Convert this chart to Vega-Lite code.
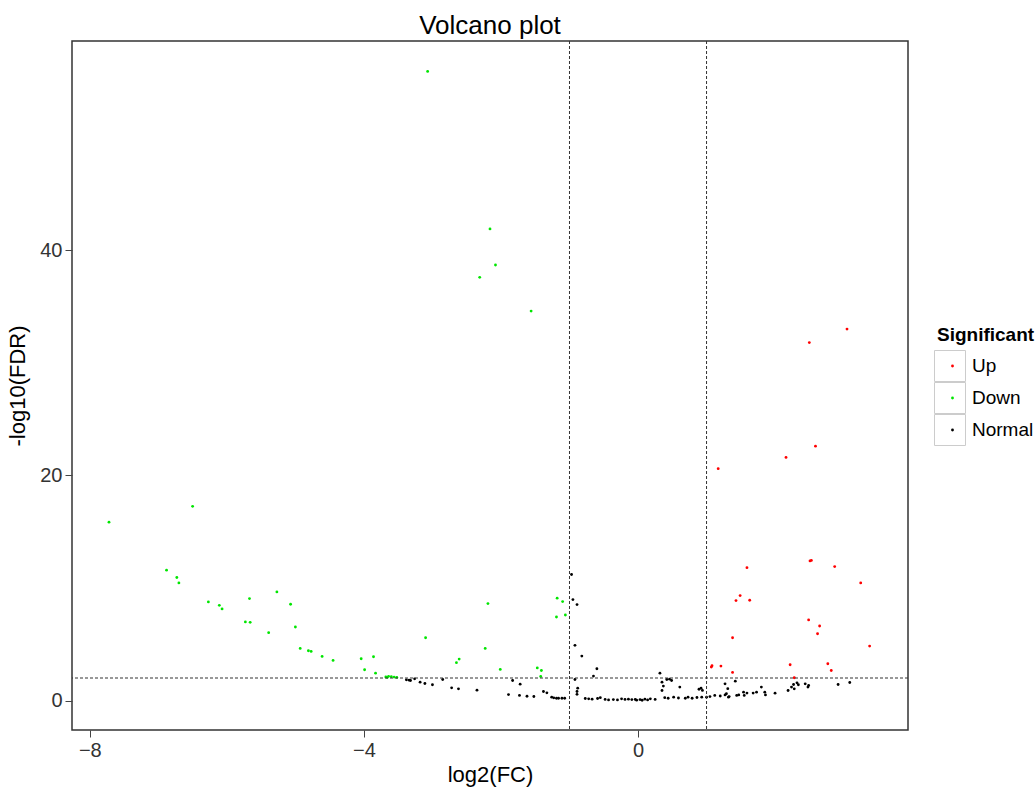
{
  "$schema": "https://vega.github.io/schema/vega-lite/v6.json",
  "width": 836,
  "height": 689,
  "autosize": {"type": "none"},
  "padding": {"left": 72, "top": 41, "right": 127, "bottom": 57},
  "background": "white",
  "title": {"text": "Volcano plot", "fontSize": 26, "font": "Liberation Sans", "fontWeight": "normal", "color": "#000000", "anchor": "middle", "offset": 2},
  "config": {
    "view": {"stroke": "#333333", "strokeWidth": 1.5},
    "axis": {"grid": false, "domain": false, "tickColor": "#444444", "tickSize": 7, "labelFont": "Liberation Sans", "labelFontSize": 20, "labelColor": "#333333", "labelPadding": 3, "titleFont": "Liberation Sans", "titleFontSize": 22, "titleFontWeight": "normal", "titleColor": "#000000"}
  },
  "datasets": {
    "genes": [
      {"log2FC": -3.07, "negLog10FDR": 55.9, "Significant": "Down"},
      {"log2FC": -2.16, "negLog10FDR": 41.9, "Significant": "Down"},
      {"log2FC": -2.08, "negLog10FDR": 38.7, "Significant": "Down"},
      {"log2FC": -2.31, "negLog10FDR": 37.6, "Significant": "Down"},
      {"log2FC": -1.56, "negLog10FDR": 34.6, "Significant": "Down"},
      {"log2FC": -7.72, "negLog10FDR": 15.85, "Significant": "Down"},
      {"log2FC": -6.5, "negLog10FDR": 17.25, "Significant": "Down"},
      {"log2FC": -6.88, "negLog10FDR": 11.58, "Significant": "Down"},
      {"log2FC": -6.73, "negLog10FDR": 10.93, "Significant": "Down"},
      {"log2FC": -6.7, "negLog10FDR": 10.45, "Significant": "Down"},
      {"log2FC": -6.27, "negLog10FDR": 8.76, "Significant": "Down"},
      {"log2FC": -6.11, "negLog10FDR": 8.46, "Significant": "Down"},
      {"log2FC": -6.07, "negLog10FDR": 8.14, "Significant": "Down"},
      {"log2FC": -5.67, "negLog10FDR": 9.06, "Significant": "Down"},
      {"log2FC": -5.73, "negLog10FDR": 6.98, "Significant": "Down"},
      {"log2FC": -5.66, "negLog10FDR": 6.95, "Significant": "Down"},
      {"log2FC": -5.39, "negLog10FDR": 6.03, "Significant": "Down"},
      {"log2FC": -5.27, "negLog10FDR": 9.65, "Significant": "Down"},
      {"log2FC": -5.07, "negLog10FDR": 8.55, "Significant": "Down"},
      {"log2FC": -5.0, "negLog10FDR": 6.53, "Significant": "Down"},
      {"log2FC": -4.93, "negLog10FDR": 4.63, "Significant": "Down"},
      {"log2FC": -4.81, "negLog10FDR": 4.42, "Significant": "Down"},
      {"log2FC": -4.77, "negLog10FDR": 4.36, "Significant": "Down"},
      {"log2FC": -4.61, "negLog10FDR": 3.92, "Significant": "Down"},
      {"log2FC": -4.45, "negLog10FDR": 3.56, "Significant": "Down"},
      {"log2FC": -4.04, "negLog10FDR": 3.71, "Significant": "Down"},
      {"log2FC": -3.86, "negLog10FDR": 3.89, "Significant": "Down"},
      {"log2FC": -3.99, "negLog10FDR": 2.73, "Significant": "Down"},
      {"log2FC": -3.83, "negLog10FDR": 2.43, "Significant": "Down"},
      {"log2FC": -3.68, "negLog10FDR": 2.1, "Significant": "Down"},
      {"log2FC": -3.66, "negLog10FDR": 2.05, "Significant": "Down"},
      {"log2FC": -3.64, "negLog10FDR": 2.15, "Significant": "Down"},
      {"log2FC": -3.6, "negLog10FDR": 2.12, "Significant": "Down"},
      {"log2FC": -3.56, "negLog10FDR": 2.08, "Significant": "Down"},
      {"log2FC": -3.52, "negLog10FDR": 2.05, "Significant": "Down"},
      {"log2FC": -3.1, "negLog10FDR": 5.58, "Significant": "Down"},
      {"log2FC": -2.65, "negLog10FDR": 3.36, "Significant": "Down"},
      {"log2FC": -2.61, "negLog10FDR": 3.68, "Significant": "Down"},
      {"log2FC": -2.19, "negLog10FDR": 8.61, "Significant": "Down"},
      {"log2FC": -2.23, "negLog10FDR": 4.63, "Significant": "Down"},
      {"log2FC": -2.01, "negLog10FDR": 2.76, "Significant": "Down"},
      {"log2FC": -1.47, "negLog10FDR": 2.9, "Significant": "Down"},
      {"log2FC": -1.41, "negLog10FDR": 2.67, "Significant": "Down"},
      {"log2FC": -1.42, "negLog10FDR": 2.14, "Significant": "Down"},
      {"log2FC": -1.18, "negLog10FDR": 9.09, "Significant": "Down"},
      {"log2FC": -1.1, "negLog10FDR": 8.79, "Significant": "Down"},
      {"log2FC": -1.19, "negLog10FDR": 7.42, "Significant": "Down"},
      {"log2FC": -1.06, "negLog10FDR": 7.6, "Significant": "Down"},
      {"log2FC": 3.05, "negLog10FDR": 33.0, "Significant": "Up"},
      {"log2FC": 2.5, "negLog10FDR": 31.8, "Significant": "Up"},
      {"log2FC": 2.59, "negLog10FDR": 22.6, "Significant": "Up"},
      {"log2FC": 2.16, "negLog10FDR": 21.6, "Significant": "Up"},
      {"log2FC": 1.17, "negLog10FDR": 20.6, "Significant": "Up"},
      {"log2FC": 2.51, "negLog10FDR": 12.4, "Significant": "Up"},
      {"log2FC": 2.53, "negLog10FDR": 12.45, "Significant": "Up"},
      {"log2FC": 2.87, "negLog10FDR": 11.9, "Significant": "Up"},
      {"log2FC": 1.59, "negLog10FDR": 11.8, "Significant": "Up"},
      {"log2FC": 3.25, "negLog10FDR": 10.45, "Significant": "Up"},
      {"log2FC": 1.43, "negLog10FDR": 8.88, "Significant": "Up"},
      {"log2FC": 1.49, "negLog10FDR": 9.32, "Significant": "Up"},
      {"log2FC": 1.63, "negLog10FDR": 8.91, "Significant": "Up"},
      {"log2FC": 2.49, "negLog10FDR": 7.16, "Significant": "Up"},
      {"log2FC": 2.65, "negLog10FDR": 6.62, "Significant": "Up"},
      {"log2FC": 2.62, "negLog10FDR": 5.93, "Significant": "Up"},
      {"log2FC": 1.38, "negLog10FDR": 5.58, "Significant": "Up"},
      {"log2FC": 3.38, "negLog10FDR": 4.84, "Significant": "Up"},
      {"log2FC": 1.07, "negLog10FDR": 2.97, "Significant": "Up"},
      {"log2FC": 1.08, "negLog10FDR": 3.09, "Significant": "Up"},
      {"log2FC": 1.21, "negLog10FDR": 3.06, "Significant": "Up"},
      {"log2FC": 1.38, "negLog10FDR": 2.5, "Significant": "Up"},
      {"log2FC": 2.22, "negLog10FDR": 3.18, "Significant": "Up"},
      {"log2FC": 2.77, "negLog10FDR": 3.27, "Significant": "Up"},
      {"log2FC": 2.82, "negLog10FDR": 2.67, "Significant": "Up"},
      {"log2FC": 2.28, "negLog10FDR": 2.02, "Significant": "Up"},
      {"log2FC": -0.97, "negLog10FDR": 11.2, "Significant": "Normal"},
      {"log2FC": -0.95, "negLog10FDR": 8.97, "Significant": "Normal"},
      {"log2FC": -0.89, "negLog10FDR": 8.52, "Significant": "Normal"},
      {"log2FC": -0.92, "negLog10FDR": 4.9, "Significant": "Normal"},
      {"log2FC": -0.82, "negLog10FDR": 3.95, "Significant": "Normal"},
      {"log2FC": -0.6, "negLog10FDR": 2.82, "Significant": "Normal"},
      {"log2FC": -0.65, "negLog10FDR": 2.17, "Significant": "Normal"},
      {"log2FC": 0.32, "negLog10FDR": 2.43, "Significant": "Normal"},
      {"log2FC": 0.42, "negLog10FDR": 1.87, "Significant": "Normal"},
      {"log2FC": 0.46, "negLog10FDR": 1.9, "Significant": "Normal"},
      {"log2FC": -3.38, "negLog10FDR": 1.84, "Significant": "Normal"},
      {"log2FC": -3.34, "negLog10FDR": 1.81, "Significant": "Normal"},
      {"log2FC": -3.32, "negLog10FDR": 1.78, "Significant": "Normal"},
      {"log2FC": -3.26, "negLog10FDR": 1.93, "Significant": "Normal"},
      {"log2FC": -3.18, "negLog10FDR": 1.63, "Significant": "Normal"},
      {"log2FC": -3.11, "negLog10FDR": 1.51, "Significant": "Normal"},
      {"log2FC": -3.0, "negLog10FDR": 1.4, "Significant": "Normal"},
      {"log2FC": -2.85, "negLog10FDR": 1.87, "Significant": "Normal"},
      {"log2FC": -2.72, "negLog10FDR": 1.13, "Significant": "Normal"},
      {"log2FC": -2.62, "negLog10FDR": 1.04, "Significant": "Normal"},
      {"log2FC": -2.35, "negLog10FDR": 0.92, "Significant": "Normal"},
      {"log2FC": -1.89, "negLog10FDR": 0.53, "Significant": "Normal"},
      {"log2FC": -1.83, "negLog10FDR": 1.78, "Significant": "Normal"},
      {"log2FC": -1.72, "negLog10FDR": 1.45, "Significant": "Normal"},
      {"log2FC": -1.73, "negLog10FDR": 0.45, "Significant": "Normal"},
      {"log2FC": -1.62, "negLog10FDR": 0.38, "Significant": "Normal"},
      {"log2FC": -1.52, "negLog10FDR": 0.36, "Significant": "Normal"},
      {"log2FC": -1.38, "negLog10FDR": 0.8, "Significant": "Normal"},
      {"log2FC": -1.33, "negLog10FDR": 0.68, "Significant": "Normal"},
      {"log2FC": -1.26, "negLog10FDR": 0.3, "Significant": "Normal"},
      {"log2FC": -1.23, "negLog10FDR": 0.24, "Significant": "Normal"},
      {"log2FC": -1.19, "negLog10FDR": 0.2, "Significant": "Normal"},
      {"log2FC": -1.16, "negLog10FDR": 0.2, "Significant": "Normal"},
      {"log2FC": -1.11, "negLog10FDR": 0.2, "Significant": "Normal"},
      {"log2FC": -1.07, "negLog10FDR": 0.2, "Significant": "Normal"},
      {"log2FC": -0.92, "negLog10FDR": 1.87, "Significant": "Normal"},
      {"log2FC": -0.88, "negLog10FDR": 1.1, "Significant": "Normal"},
      {"log2FC": -0.89, "negLog10FDR": 0.8, "Significant": "Normal"},
      {"log2FC": -0.89, "negLog10FDR": 0.55, "Significant": "Normal"},
      {"log2FC": -0.77, "negLog10FDR": 0.18, "Significant": "Normal"},
      {"log2FC": -0.72, "negLog10FDR": 0.15, "Significant": "Normal"},
      {"log2FC": -0.67, "negLog10FDR": 0.12, "Significant": "Normal"},
      {"log2FC": -0.59, "negLog10FDR": 0.18, "Significant": "Normal"},
      {"log2FC": -0.55, "negLog10FDR": 0.25, "Significant": "Normal"},
      {"log2FC": -0.48, "negLog10FDR": 0.1, "Significant": "Normal"},
      {"log2FC": -0.43, "negLog10FDR": 0.05, "Significant": "Normal"},
      {"log2FC": -0.36, "negLog10FDR": 0.08, "Significant": "Normal"},
      {"log2FC": -0.3, "negLog10FDR": 0.05, "Significant": "Normal"},
      {"log2FC": -0.24, "negLog10FDR": 0.15, "Significant": "Normal"},
      {"log2FC": -0.19, "negLog10FDR": 0.1, "Significant": "Normal"},
      {"log2FC": -0.14, "negLog10FDR": 0.12, "Significant": "Normal"},
      {"log2FC": -0.09, "negLog10FDR": 0.08, "Significant": "Normal"},
      {"log2FC": -0.04, "negLog10FDR": 0.1, "Significant": "Normal"},
      {"log2FC": -0.02, "negLog10FDR": 0.03, "Significant": "Normal"},
      {"log2FC": 0.03, "negLog10FDR": 0.08, "Significant": "Normal"},
      {"log2FC": 0.06, "negLog10FDR": 0.02, "Significant": "Normal"},
      {"log2FC": 0.1, "negLog10FDR": 0.12, "Significant": "Normal"},
      {"log2FC": 0.14, "negLog10FDR": 0.05, "Significant": "Normal"},
      {"log2FC": 0.18, "negLog10FDR": 0.15, "Significant": "Normal"},
      {"log2FC": 0.25, "negLog10FDR": 0.1, "Significant": "Normal"},
      {"log2FC": 0.35, "negLog10FDR": 1.63, "Significant": "Normal"},
      {"log2FC": 0.37, "negLog10FDR": 1.28, "Significant": "Normal"},
      {"log2FC": 0.35, "negLog10FDR": 0.89, "Significant": "Normal"},
      {"log2FC": 0.49, "negLog10FDR": 1.78, "Significant": "Normal"},
      {"log2FC": 0.39, "negLog10FDR": 0.25, "Significant": "Normal"},
      {"log2FC": 0.44, "negLog10FDR": 0.2, "Significant": "Normal"},
      {"log2FC": 0.52, "negLog10FDR": 0.3, "Significant": "Normal"},
      {"log2FC": 0.59, "negLog10FDR": 0.22, "Significant": "Normal"},
      {"log2FC": 0.61, "negLog10FDR": 1.19, "Significant": "Normal"},
      {"log2FC": 0.69, "negLog10FDR": 0.2, "Significant": "Normal"},
      {"log2FC": 0.73, "negLog10FDR": 0.3, "Significant": "Normal"},
      {"log2FC": 0.79, "negLog10FDR": 0.2, "Significant": "Normal"},
      {"log2FC": 0.86, "negLog10FDR": 0.27, "Significant": "Normal"},
      {"log2FC": 0.89, "negLog10FDR": 1.0, "Significant": "Normal"},
      {"log2FC": 0.92, "negLog10FDR": 1.1, "Significant": "Normal"},
      {"log2FC": 0.94, "negLog10FDR": 0.9, "Significant": "Normal"},
      {"log2FC": 0.93, "negLog10FDR": 0.3, "Significant": "Normal"},
      {"log2FC": 1.0, "negLog10FDR": 0.3, "Significant": "Normal"},
      {"log2FC": 1.05, "negLog10FDR": 0.35, "Significant": "Normal"},
      {"log2FC": 1.12, "negLog10FDR": 0.45, "Significant": "Normal"},
      {"log2FC": 1.2, "negLog10FDR": 0.4, "Significant": "Normal"},
      {"log2FC": 1.27, "negLog10FDR": 0.5, "Significant": "Normal"},
      {"log2FC": 1.31, "negLog10FDR": 1.05, "Significant": "Normal"},
      {"log2FC": 1.33, "negLog10FDR": 0.35, "Significant": "Normal"},
      {"log2FC": 1.27, "negLog10FDR": 1.48, "Significant": "Normal"},
      {"log2FC": 1.29, "negLog10FDR": 0.6, "Significant": "Normal"},
      {"log2FC": 1.32, "negLog10FDR": 0.3, "Significant": "Normal"},
      {"log2FC": 1.42, "negLog10FDR": 1.72, "Significant": "Normal"},
      {"log2FC": 1.44, "negLog10FDR": 0.45, "Significant": "Normal"},
      {"log2FC": 1.47, "negLog10FDR": 0.5, "Significant": "Normal"},
      {"log2FC": 1.54, "negLog10FDR": 0.74, "Significant": "Normal"},
      {"log2FC": 1.55, "negLog10FDR": 0.45, "Significant": "Normal"},
      {"log2FC": 1.59, "negLog10FDR": 0.66, "Significant": "Normal"},
      {"log2FC": 1.68, "negLog10FDR": 0.66, "Significant": "Normal"},
      {"log2FC": 1.73, "negLog10FDR": 0.74, "Significant": "Normal"},
      {"log2FC": 1.8, "negLog10FDR": 1.19, "Significant": "Normal"},
      {"log2FC": 1.85, "negLog10FDR": 0.74, "Significant": "Normal"},
      {"log2FC": 1.86, "negLog10FDR": 0.5, "Significant": "Normal"},
      {"log2FC": 2.0, "negLog10FDR": 0.65, "Significant": "Normal"},
      {"log2FC": 2.19, "negLog10FDR": 0.89, "Significant": "Normal"},
      {"log2FC": 2.24, "negLog10FDR": 1.19, "Significant": "Normal"},
      {"log2FC": 2.28, "negLog10FDR": 1.04, "Significant": "Normal"},
      {"log2FC": 2.27, "negLog10FDR": 1.42, "Significant": "Normal"},
      {"log2FC": 2.32, "negLog10FDR": 1.57, "Significant": "Normal"},
      {"log2FC": 2.34, "negLog10FDR": 1.4, "Significant": "Normal"},
      {"log2FC": 2.44, "negLog10FDR": 1.48, "Significant": "Normal"},
      {"log2FC": 2.48, "negLog10FDR": 1.19, "Significant": "Normal"},
      {"log2FC": 2.49, "negLog10FDR": 1.34, "Significant": "Normal"},
      {"log2FC": 2.92, "negLog10FDR": 1.42, "Significant": "Normal"},
      {"log2FC": 3.09, "negLog10FDR": 1.6, "Significant": "Normal"}
    ],
    "vlines": [{"log2FC": -1}, {"log2FC": 1}],
    "hlines": [{"negLog10FDR": 2}]
  },
  "layer": [
    {
      "data": {"name": "genes"},
      "mark": {"type": "point", "filled": true, "size": 8, "opacity": 1},
      "encoding": {
        "x": {"field": "log2FC", "type": "quantitative", "scale": {"domain": [-8.26, 3.94], "nice": false, "zero": false}, "axis": {"values": [-8, -4, 0], "format": "d", "title": "log2(FC)", "titlePadding": 4}},
        "y": {"field": "negLog10FDR", "type": "quantitative", "scale": {"domain": [-2.62, 58.6], "nice": false, "zero": false}, "axis": {"values": [0, 20, 40], "format": "d", "title": "-log10(FDR)", "titlePadding": 10}},
        "color": {
          "field": "Significant", "type": "nominal",
          "scale": {"domain": ["Up", "Down", "Normal"], "range": ["#ff0000", "#00e600", "#000000"]},
          "legend": {"orient": "none", "legendX": 865, "legendY": 285, "title": "Significant", "titleFont": "Liberation Sans", "titleFontSize": 19, "titleFontWeight": "bold", "titleColor": "#000000", "titlePadding": 5, "labelFont": "Liberation Sans", "labelFontSize": 19, "labelColor": "#000000", "symbolType": "circle", "symbolSize": 8, "clipHeight": 32, "rowPadding": 0, "symbolOffset": 6, "labelOffset": 10}
        }
      }
    },
    {
      "data": {"name": "genes"},
      "mark": {"type": "point", "shape": "square", "opacity": 0, "color": "#cccccc"},
      "encoding": {
        "x": {"field": "log2FC", "type": "quantitative"},
        "y": {"field": "negLog10FDR", "type": "quantitative"},
        "shape": {
          "field": "Significant", "type": "nominal",
          "scale": {"range": ["square"]},
          "legend": {"orient": "none", "legendX": 862, "legendY": 309, "title": null, "symbolSize": 961, "symbolStrokeColor": "#cccccc", "symbolFillColor": "transparent", "symbolStrokeWidth": 1, "symbolOpacity": 1, "labelExpr": "''", "labelOpacity": 0, "labelFontSize": 19, "clipHeight": 32, "rowPadding": 0}
        }
      }
    },
    {
      "data": {"name": "vlines"},
      "mark": {"type": "rule", "color": "#333333", "strokeDash": [3, 2], "strokeWidth": 1},
      "encoding": {"x": {"field": "log2FC", "type": "quantitative"}}
    },
    {
      "data": {"name": "hlines"},
      "mark": {"type": "rule", "color": "#333333", "strokeDash": [3, 2], "strokeWidth": 1},
      "encoding": {"y": {"field": "negLog10FDR", "type": "quantitative"}}
    }
  ]
}
